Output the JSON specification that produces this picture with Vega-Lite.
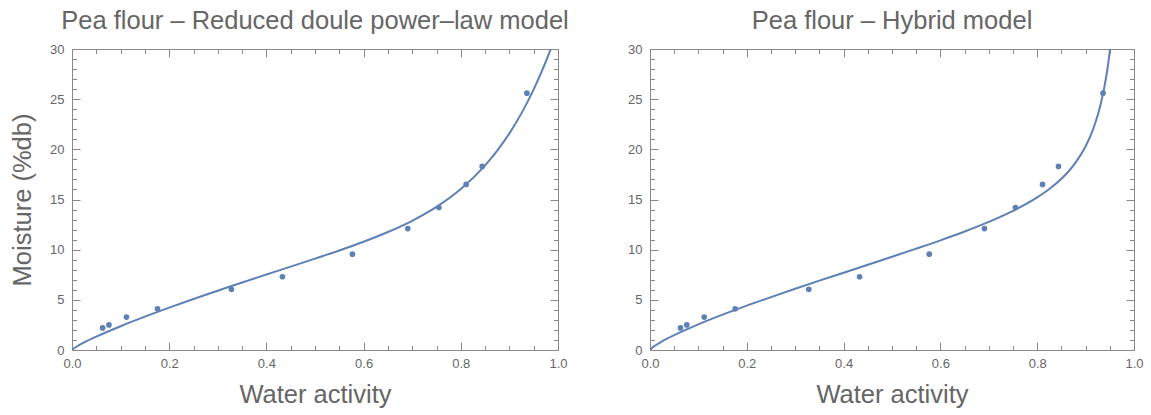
{
  "$schema": "https://vega.github.io/schema/vega-lite/v6.json",
  "background": "white",
  "padding": {"left": 10, "top": 8, "right": 10, "bottom": 5},
  "bounds": "flush",
  "spacing": 92,
  "config": {
    "font": "Liberation Sans",
    "view": {"stroke": "#888888", "strokeWidth": 1},
    "axis": {"grid": false, "domain": false, "tickColor": "#888888", "tickWidth": 1, "labelColor": "#666666", "labelFont": "Liberation Sans", "labelFontSize": 13, "titleColor": "#666666", "titleFont": "Liberation Sans", "titleFontSize": 25.5, "titleFontWeight": "normal", "labelFlush": false, "labelOverlap": false}
  },
  "datasets": {
    "obs": [
      {"aw": 0.063, "m": 2.2}, {"aw": 0.076, "m": 2.5}, {"aw": 0.112, "m": 3.28}, {"aw": 0.176, "m": 4.1},
      {"aw": 0.328, "m": 6.05}, {"aw": 0.433, "m": 7.3}, {"aw": 0.577, "m": 9.55}, {"aw": 0.691, "m": 12.1},
      {"aw": 0.755, "m": 14.2}, {"aw": 0.811, "m": 16.5}, {"aw": 0.844, "m": 18.3}, {"aw": 0.936, "m": 25.6}
    ],
    "fitL": [
      {"aw": 0, "m": 0}, {"aw": 0.005, "m": 0.2}, {"aw": 0.01, "m": 0.35}, {"aw": 0.025, "m": 0.75}, {"aw": 0.05, "m": 1.33},
      {"aw": 0.1, "m": 2.37}, {"aw": 0.15, "m": 3.32}, {"aw": 0.2, "m": 4.22}, {"aw": 0.25, "m": 5.08}, {"aw": 0.3, "m": 5.91},
      {"aw": 0.35, "m": 6.73}, {"aw": 0.4, "m": 7.52}, {"aw": 0.45, "m": 8.31}, {"aw": 0.5, "m": 9.11}, {"aw": 0.55, "m": 9.92},
      {"aw": 0.6, "m": 10.79}, {"aw": 0.65, "m": 11.76}, {"aw": 0.7, "m": 12.88}, {"aw": 0.75, "m": 14.26}, {"aw": 0.8, "m": 16.04},
      {"aw": 0.85, "m": 18.4}, {"aw": 0.875, "m": 19.87}, {"aw": 0.9, "m": 21.59}, {"aw": 0.925, "m": 23.61}, {"aw": 0.95, "m": 25.98},
      {"aw": 0.97, "m": 28.16}, {"aw": 0.98, "m": 29.36}, {"aw": 0.99, "m": 30.64}
    ],
    "fitR": [
      {"aw": 0, "m": 0}, {"aw": 0.005, "m": 0.24}, {"aw": 0.01, "m": 0.42}, {"aw": 0.025, "m": 0.86}, {"aw": 0.05, "m": 1.48},
      {"aw": 0.1, "m": 2.56}, {"aw": 0.15, "m": 3.52}, {"aw": 0.2, "m": 4.42}, {"aw": 0.25, "m": 5.27}, {"aw": 0.3, "m": 6.1},
      {"aw": 0.35, "m": 6.91}, {"aw": 0.4, "m": 7.7}, {"aw": 0.45, "m": 8.5}, {"aw": 0.5, "m": 9.29}, {"aw": 0.55, "m": 10.1},
      {"aw": 0.6, "m": 10.93}, {"aw": 0.65, "m": 11.81}, {"aw": 0.7, "m": 12.77}, {"aw": 0.75, "m": 13.87}, {"aw": 0.8, "m": 15.21},
      {"aw": 0.825, "m": 16.04}, {"aw": 0.85, "m": 17.07}, {"aw": 0.875, "m": 18.41}, {"aw": 0.9, "m": 20.31}, {"aw": 0.91, "m": 21.34},
      {"aw": 0.92, "m": 22.63}, {"aw": 0.93, "m": 24.28}, {"aw": 0.94, "m": 26.53}, {"aw": 0.945, "m": 27.98}, {"aw": 0.95, "m": 29.76},
      {"aw": 0.955, "m": 31.99}
    ]
  },
  "hconcat": [
    {
      "width": 486, "height": 301,
      "title": {"text": "Pea flour – Reduced doule power–law model", "fontSize": 25.5, "fontWeight": "normal", "color": "#666666", "font": "Liberation Sans", "anchor": "middle", "baseline": "alphabetic", "offset": -11},
      "layer": [
        {
          "data": {"name": "fitL"},
          "mark": {"type": "line", "color": "#5E81B5", "strokeWidth": 2, "clip": true, "interpolate": "monotone"},
          "encoding": {
            "x": {"field": "aw", "type": "quantitative", "scale": {"domain": [0, 1], "nice": false, "zero": false},
              "axis": {"orient": "bottom", "values": [0, 0.05, 0.1, 0.15, 0.2, 0.25, 0.3, 0.35, 0.4, 0.45, 0.5, 0.55, 0.6, 0.65, 0.7, 0.75, 0.8, 0.85, 0.9, 0.95, 1],
                "tickSize": {"condition": {"test": "abs(datum.value*5 - round(datum.value*5)) < 0.000001", "value": -8}, "value": -4.5},
                "labelExpr": "abs(datum.value*5 - round(datum.value*5)) < 0.000001 ? format(datum.value, '.1f') : ''",
                "labelPadding": 15, "title": "Water activity", "titlePadding": 9}},
            "y": {"field": "m", "type": "quantitative", "scale": {"domain": [0, 30], "nice": false},
              "axis": {"orient": "left", "values": [0,1,2,3,4,5,6,7,8,9,10,11,12,13,14,15,16,17,18,19,20,21,22,23,24,25,26,27,28,29,30],
                "tickSize": {"condition": {"test": "datum.value % 5 === 0", "value": -8}, "value": -4.5},
                "labelExpr": "datum.value % 5 === 0 ? format(datum.value, 'd') : ''",
                "labelPadding": 16, "title": "Moisture (%db)", "titlePadding": 14}}
          }
        },
        {
          "data": {"name": "obs"},
          "mark": {"type": "circle", "color": "#5E81B5", "size": 32, "opacity": 1},
          "encoding": {
            "x": {"field": "aw", "type": "quantitative", "scale": {"domain": [0, 1], "nice": false, "zero": false},
              "axis": {"orient": "top", "values": [0, 0.05, 0.1, 0.15, 0.2, 0.25, 0.3, 0.35, 0.4, 0.45, 0.5, 0.55, 0.6, 0.65, 0.7, 0.75, 0.8, 0.85, 0.9, 0.95, 1],
                "tickSize": {"condition": {"test": "abs(datum.value*5 - round(datum.value*5)) < 0.000001", "value": -8}, "value": -4.5},
                "labels": false, "title": null}},
            "y": {"field": "m", "type": "quantitative", "scale": {"domain": [0, 30], "nice": false},
              "axis": {"orient": "right", "values": [0,1,2,3,4,5,6,7,8,9,10,11,12,13,14,15,16,17,18,19,20,21,22,23,24,25,26,27,28,29,30],
                "tickSize": {"condition": {"test": "datum.value % 5 === 0", "value": -8}, "value": -4.5},
                "labels": false, "title": null}}
          }
        }
      ],
      "resolve": {"axis": {"x": "independent", "y": "independent"}}
    },
    {
      "width": 484, "height": 301,
      "title": {"text": "Pea flour – Hybrid model", "fontSize": 25.5, "fontWeight": "normal", "color": "#666666", "font": "Liberation Sans", "anchor": "middle", "baseline": "alphabetic", "offset": -11},
      "layer": [
        {
          "data": {"name": "fitR"},
          "mark": {"type": "line", "color": "#5E81B5", "strokeWidth": 2, "clip": true, "interpolate": "monotone"},
          "encoding": {
            "x": {"field": "aw", "type": "quantitative", "scale": {"domain": [0, 1], "nice": false, "zero": false},
              "axis": {"orient": "bottom", "values": [0, 0.05, 0.1, 0.15, 0.2, 0.25, 0.3, 0.35, 0.4, 0.45, 0.5, 0.55, 0.6, 0.65, 0.7, 0.75, 0.8, 0.85, 0.9, 0.95, 1],
                "tickSize": {"condition": {"test": "abs(datum.value*5 - round(datum.value*5)) < 0.000001", "value": -8}, "value": -4.5},
                "labelExpr": "abs(datum.value*5 - round(datum.value*5)) < 0.000001 ? format(datum.value, '.1f') : ''",
                "labelPadding": 15, "title": "Water activity", "titlePadding": 9}},
            "y": {"field": "m", "type": "quantitative", "scale": {"domain": [0, 30], "nice": false},
              "axis": {"orient": "left", "values": [0,1,2,3,4,5,6,7,8,9,10,11,12,13,14,15,16,17,18,19,20,21,22,23,24,25,26,27,28,29,30],
                "tickSize": {"condition": {"test": "datum.value % 5 === 0", "value": -8}, "value": -4.5},
                "labelExpr": "datum.value % 5 === 0 ? format(datum.value, 'd') : ''",
                "labelPadding": 16, "title": null}}
          }
        },
        {
          "data": {"name": "obs"},
          "mark": {"type": "circle", "color": "#5E81B5", "size": 32, "opacity": 1},
          "encoding": {
            "x": {"field": "aw", "type": "quantitative", "scale": {"domain": [0, 1], "nice": false, "zero": false},
              "axis": {"orient": "top", "values": [0, 0.05, 0.1, 0.15, 0.2, 0.25, 0.3, 0.35, 0.4, 0.45, 0.5, 0.55, 0.6, 0.65, 0.7, 0.75, 0.8, 0.85, 0.9, 0.95, 1],
                "tickSize": {"condition": {"test": "abs(datum.value*5 - round(datum.value*5)) < 0.000001", "value": -8}, "value": -4.5},
                "labels": false, "title": null}},
            "y": {"field": "m", "type": "quantitative", "scale": {"domain": [0, 30], "nice": false},
              "axis": {"orient": "right", "values": [0,1,2,3,4,5,6,7,8,9,10,11,12,13,14,15,16,17,18,19,20,21,22,23,24,25,26,27,28,29,30],
                "tickSize": {"condition": {"test": "datum.value % 5 === 0", "value": -8}, "value": -4.5},
                "labels": false, "title": null}}
          }
        }
      ],
      "resolve": {"axis": {"x": "independent", "y": "independent"}}
    }
  ]
}
